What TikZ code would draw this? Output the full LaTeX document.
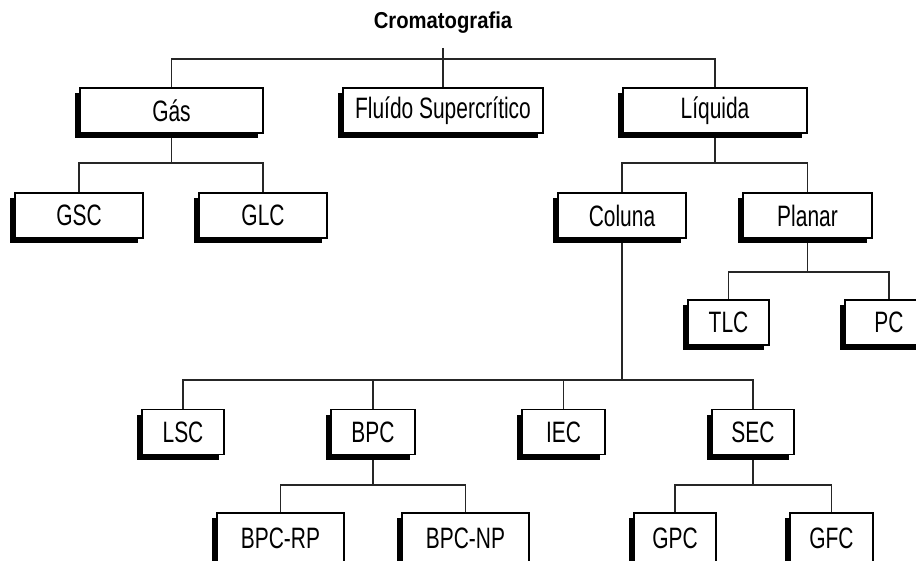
\documentclass[tikz,border=0pt]{standalone}
\usepackage{fontspec}
\setmainfont[FakeStretch=0.71]{Liberation Sans}
\newfontfamily\titlefont[FakeStretch=0.88]{Liberation Sans}
\usetikzlibrary{shadows,backgrounds}
\tikzset{
  box/.style={draw=black, line width=1.1pt, fill=white, minimum height=45pt,
    inner sep=0pt, font=\fontsize{29.5}{32}\selectfont,
    drop shadow={shadow xshift=-5pt, shadow yshift=-5pt, fill=black, opacity=1}},
  tallbox/.style={box, minimum height=54pt},
  conn/.style={line width=1.4pt, draw=black!85}
}
\begin{document}
\begin{tikzpicture}[x=1pt,y=-1pt]
\useasboundingbox (0,0) rectangle (916,561);
\node[font=\titlefont\bfseries\fontsize{23}{26}\selectfont, inner sep=0pt] (title) at (443,23) {Cromatografia};
% level 1
\node[box, minimum width=183pt] (gas) at (171.5,110.5) {Gás};
\node[box, minimum width=200pt] (fluido) at (443,110.5) {Fluído Supercrítico};
\node[box, minimum width=184pt] (liquida) at (715,110.5) {Líquida};
% level 2
\node[box, minimum width=128pt] (gsc) at (79,215.5) {GSC};
\node[box, minimum width=128pt] (glc) at (263,215.5) {GLC};
\node[box, minimum width=128pt] (coluna) at (622,215.5) {Coluna};
\node[box, minimum width=129pt] (planar) at (807.5,215.5) {Planar};
% level 3
\node[box, minimum width=81pt] (tlc) at (728.5,322.5) {TLC};
\node[box, minimum width=88pt] (pc) at (889,322.5) {PC};
% level 4
\node[box, minimum width=82pt] (lsc) at (183,432) {LSC};
\node[box, minimum width=84pt] (bpc) at (373,432) {BPC};
\node[box, minimum width=83pt] (iec) at (563.5,432) {IEC};
\node[box, minimum width=82pt] (sec) at (753,432) {SEC};
% level 5 (cut by the lower edge)
\node[tallbox, minimum width=127pt] (bpcrp) at (280.5,540) {\raisebox{4pt}{BPC-RP}};
\node[tallbox, minimum width=127pt] (bpcnp) at (465.5,540) {\raisebox{4pt}{BPC-NP}};
\node[tallbox, minimum width=82pt] (gpc) at (675,540) {\raisebox{4pt}{GPC}};
\node[tallbox, minimum width=83pt] (gfc) at (831.5,540) {\raisebox{4pt}{GFC}};
% junctions
\coordinate (j0) at (443,59);
\coordinate (j1) at (171.5,163);
\coordinate (j2) at (715,163);
\coordinate (j3) at (807.5,272);
\coordinate (j4) at (622,380);
\coordinate (j5) at (373,485);
\coordinate (j6) at (753,485);
\begin{scope}[on background layer]
\draw[conn] ([yshift=-14pt]title.south) -- (fluido.north);
\draw[conn] (gas.north) |- (j0) -| (liquida.north);
\draw[conn] (gas.south) -- (j1);
\draw[conn] (gsc.north) |- (j1) -| (glc.north);
\draw[conn] (liquida.south) -- (j2);
\draw[conn] (coluna.north) |- (j2) -| (planar.north);
\draw[conn] (planar.south) -- (j3);
\draw[conn] (tlc.north) |- (j3) -| (pc.north);
\draw[conn] (coluna.south) -- (j4);
\draw[conn] (lsc.north) |- (j4) -| (sec.north);
\draw[conn] (bpc.north) -- (bpc.north |- j4);
\draw[conn] (iec.north) -- (iec.north |- j4);
\draw[conn] (bpc.south) -- (j5);
\draw[conn] (bpcrp.north) |- (j5) -| (bpcnp.north);
\draw[conn] (sec.south) -- (j6);
\draw[conn] (gpc.north) |- (j6) -| (gfc.north);
\end{scope}
\end{tikzpicture}
\end{document}
